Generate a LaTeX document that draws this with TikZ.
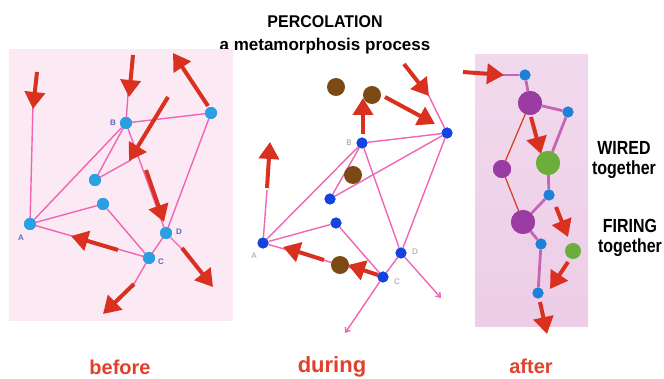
\documentclass[tikz,border=0pt]{standalone}
\usepackage{fontspec}
\setmainfont{Liberation Sans}
\usetikzlibrary{arrows.meta}
\definecolor{bgbefore}{HTML}{FBE9F4}
\definecolor{bgafter}{HTML}{EDCDE7}
\definecolor{pinkline}{HTML}{F065B5}
\definecolor{mauve}{HTML}{C466B4}
\definecolor{redarrow}{HTML}{D9301F}
\definecolor{lightblue}{HTML}{2A9FE2}
\definecolor{darkblue}{HTML}{1444E0}
\definecolor{midblue}{HTML}{1F80DA}
\definecolor{purp}{HTML}{9A3CA2}
\definecolor{grn}{HTML}{6BAE3C}
\definecolor{brwn}{HTML}{7B4A14}
\definecolor{lbl}{HTML}{5E66C8}
\definecolor{labelred}{HTML}{E0402C}
\tikzset{
  edge/.style={draw=pinkline, line width=1.4pt},
  wire/.style={draw=mauve, line width=2.8pt},
  redwire/.style={draw=redarrow!90!orange, line width=1.2pt},
  bigarrow/.style={draw=redarrow, line width=4pt, -{Triangle[length=17pt,width=20pt]}},
  pinkarrow/.style={draw=pinkline, line width=1.4pt, -{Straight Barb[length=4pt,width=6pt]}},
  bnode/.style={circle, fill=lightblue, minimum size=12pt, inner sep=0pt},
  dnode/.style={circle, fill=darkblue, minimum size=11pt, inner sep=0pt},
  anode/.style={circle, fill=midblue, minimum size=11pt, inner sep=0pt},
  brown/.style={circle, fill=brwn, minimum size=18pt, inner sep=0pt},
  ptxt/.style={font=\bfseries\fontsize{8}{8}\selectfont, text=lbl, inner sep=0pt},
  dtxt/.style={font=\fontsize{8}{8}\selectfont, text=gray!80, inner sep=0pt},
  side/.style={font=\bfseries\fontsize{19}{19}\selectfont, anchor=base, inner sep=0pt},
  bottom/.style={font=\bfseries\fontsize{20}{20}\selectfont, text=labelred, anchor=base, inner sep=0pt},
}
\begin{document}
\begin{tikzpicture}[x=1pt, y=-1pt]
\useasboundingbox[fill=white] (0,0) rectangle (664,379);

% ---------- titles ----------
\node[anchor=base, inner sep=0pt, font=\bfseries\fontsize{17}{17}\selectfont] (title) at (325,28) {\scalebox{0.94}[1]{PERCOLATION}};
\node[anchor=base, inner sep=0pt, font=\bfseries\fontsize{17}{17}\selectfont] (subtitle) at (325,51) {a metamorphosis process};

% ---------- BEFORE ----------
\fill[bgbefore] (9,49) rectangle (233,321);
\node[bnode] (A) at (30,224) {};
\node[bnode] (B) at (126,123) {};
\node[bnode] (T) at (211,113) {};
\node[bnode] (N1) at (95,180) {};
\node[bnode] (N2) at (103,204) {};
\node[bnode] (D) at (166,233) {};
\node[bnode] (C) at (149,258) {};
\coordinate (aTop) at (33,104);
\coordinate (bTop) at (128,94);
\coordinate (n1End) at (131,160);
\coordinate (dEnd) at (183,250);
\coordinate (cEnd) at (134,284);
\draw[edge] (A) -- (aTop);
\draw[edge] (B) -- (bTop);
\draw[edge] (B) -- (T);
\draw[edge] (B) -- (A);
\draw[edge] (B) -- (N1);
\draw[edge] (N1) -- (n1End);
\draw[edge] (B) -- (D);
\draw[edge] (T) -- (D);
\draw[edge] (A) -- (N2);
\draw[edge] (N2) -- (C);
\draw[edge] (A) -- (C);
\draw[edge] (D) -- (C);
\draw[edge] (D) -- (dEnd);
\draw[edge] (C) -- (cEnd);
\foreach \n in {A,B,T,N1,N2,D,C} {\node[bnode] at (\n) {};}
\coordinate (ba1s) at (37,72);   \coordinate (ba1e) at (33,109);
\coordinate (ba2s) at (133,55);  \coordinate (ba2e) at (129,97);
\coordinate (ba3s) at (168,97);  \coordinate (ba3e) at (129,161);
\coordinate (ba4s) at (146,170); \coordinate (ba4e) at (164,222);
\coordinate (ba5s) at (208,106); \coordinate (ba5e) at (173,53);
\coordinate (ba6s) at (118,250); \coordinate (ba6e) at (71,236);
\coordinate (ba7s) at (182,248); \coordinate (ba7e) at (213,287);
\coordinate (ba8s) at (134,284); \coordinate (ba8e) at (103,314);
\foreach \i in {1,...,8} {\draw[bigarrow] (ba\i s) -- (ba\i e);}
\node[ptxt] (lB) at (113,123) {B};
\node[ptxt] (lA) at (21,238) {A};
\node[ptxt] (lD) at (179,232) {D};
\node[ptxt] (lC) at (161,262) {C};

% ---------- DURING ----------
\node[dnode] (dA) at (263,243) {};
\node[dnode] (dB) at (362,143) {};
\node[dnode] (dT) at (447,133) {};
\node[dnode] (dN1) at (330,199) {};
\node[dnode] (dN2) at (336,223) {};
\node[dnode] (dD) at (401,253) {};
\node[dnode] (dC) at (383,277) {};
\coordinate (daTop) at (267,190);
\coordinate (dtTop) at (427,92);
\coordinate (ddEnd) at (441,298);
\coordinate (dcEnd) at (345,333);
\draw[edge] (dA) -- (daTop);
\draw[edge] (dA) -- (dB);
\draw[edge] (dA) -- (dN2);
\draw[edge] (dA) -- (dC);
\draw[edge] (dB) -- (dN1);
\draw[edge] (dB) -- (dT);
\draw[edge] (dB) -- (dD);
\draw[edge] (dN1) -- (dT);
\draw[edge] (dN2) -- (dC);
\draw[edge] (dT) -- (dD);
\draw[edge] (dD) -- (dC);
\draw[edge] (dT) -- (dtTop);
\draw[pinkarrow] (dD) -- (ddEnd);
\draw[pinkarrow] (dC) -- (dcEnd);
\foreach \n in {dA,dB,dT,dN1,dN2,dD,dC} {\node[dnode] at (\n) {};}
\node[brown] (br1) at (336,87) {};
\node[brown] (br2) at (372,95) {};
\node[brown] (br3) at (353,175) {};
\node[brown] (br4) at (340,265) {};
\coordinate (da1s) at (267,188); \coordinate (da1e) at (270,142);
\coordinate (da2s) at (363,134); \coordinate (da2e) at (363,98);
\coordinate (da3s) at (404,64);  \coordinate (da3e) at (429,96);
\coordinate (da4s) at (385,97);  \coordinate (da4e) at (435,124);
\coordinate (da5s) at (324,260); \coordinate (da5e) at (283,247);
\coordinate (da6s) at (378,275); \coordinate (da6e) at (348,265);
\foreach \i in {1,...,6} {\draw[bigarrow] (da\i s) -- (da\i e);}
\node[dtxt] (dlB) at (349,143) {B};
\node[dtxt] (dlA) at (254,256) {A};
\node[dtxt] (dlD) at (415,252) {D};
\node[dtxt] (dlC) at (397,282) {C};

% ---------- AFTER ----------
\shade[top color=bgafter!75!white, bottom color=bgafter] (475,55) rectangle (588,327);
\node[anode] (b1) at (525,75) {};
\node[circle, fill=purp, minimum size=24pt, inner sep=0pt] (p1) at (530,103) {};
\node[anode] (b2) at (568,112) {};
\node[circle, fill=grn, minimum size=24pt, inner sep=0pt] (g1) at (548,163) {};
\node[circle, fill=purp, minimum size=18pt, inner sep=0pt] (p2) at (502,169) {};
\node[anode] (b3) at (549,195) {};
\node[circle, fill=purp, minimum size=24pt, inner sep=0pt] (p3) at (523,222) {};
\node[anode] (b4) at (541,244) {};
\node[circle, fill=grn, minimum size=16pt, inner sep=0pt] (g2) at (573,251) {};
\node[anode] (b5) at (538,293) {};
\coordinate (inEnd) at (500,75);
\draw[wire] (inEnd) -- (b1);
\draw[wire] (b1) -- (p1);
\draw[wire] (p1) -- (b2);
\draw[wire] (b2) -- (g1);
\draw[wire] (g1) -- (b3);
\draw[wire] (b3) -- (p3);
\draw[wire] (p3) -- (b4);
\draw[wire] (b4) -- (b5);
\draw[redwire] (p1) -- (p2);
\draw[redwire] (p2) -- (p3);
\node[anode] at (b1) {};
\node[circle, fill=purp, minimum size=24pt, inner sep=0pt] at (p1) {};
\node[anode] at (b2) {};
\node[circle, fill=grn, minimum size=24pt, inner sep=0pt] at (g1) {};
\node[circle, fill=purp, minimum size=18pt, inner sep=0pt] at (p2) {};
\node[anode] at (b3) {};
\node[circle, fill=purp, minimum size=24pt, inner sep=0pt] at (p3) {};
\node[anode] at (b4) {};
\node[anode] at (b5) {};
\coordinate (aa1s) at (463,72);  \coordinate (aa1e) at (504,75);
\coordinate (aa2s) at (531,117); \coordinate (aa2e) at (541,154);
\coordinate (aa3s) at (556,207); \coordinate (aa3e) at (568,237);
\coordinate (aa4s) at (568,262); \coordinate (aa4e) at (550,289);
\coordinate (aa5s) at (540,302); \coordinate (aa5e) at (547,334);
\foreach \i in {1,...,5} {\draw[bigarrow] (aa\i s) -- (aa\i e);}
\node[side] (w1) at (624,155) {\scalebox{0.84}[1]{WIRED}};
\node[side] (w2) at (624,175) {\scalebox{0.84}[1]{together}};
\node[side] (f1) at (630,233) {\scalebox{0.84}[1]{FIRING}};
\node[side] (f2) at (630,253) {\scalebox{0.84}[1]{together}};

% ---------- bottom labels ----------
\node[bottom] (before) at (120,374) {before};
\node[bottom, font=\bfseries\fontsize{22}{22}\selectfont] (during) at (332,372) {during};
\node[bottom] (after) at (531,373) {after};
\end{tikzpicture}
\end{document}
